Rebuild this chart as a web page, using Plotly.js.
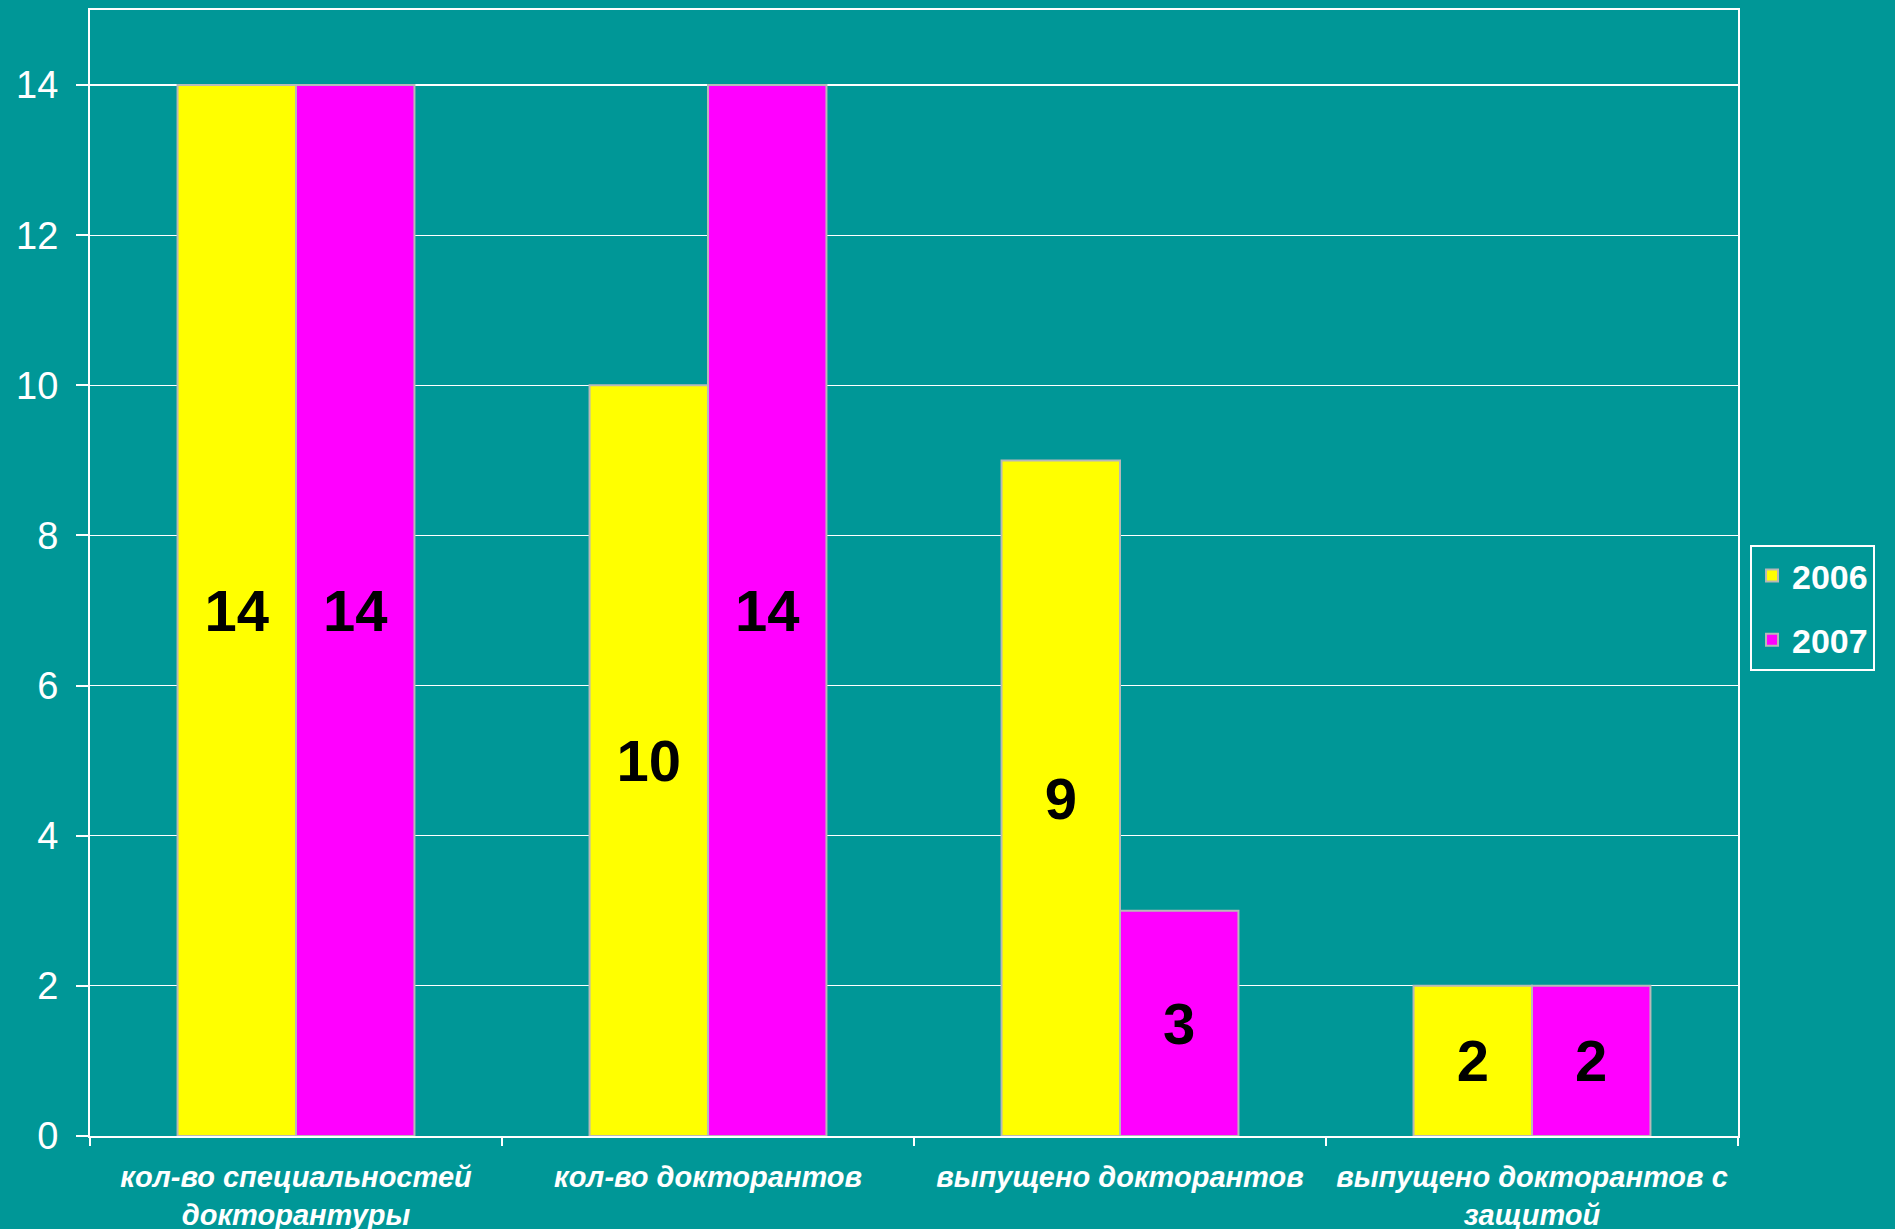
<!DOCTYPE html>
<html>
<head>
<meta charset="utf-8">
<script src="https://cdn.plot.ly/plotly-3.0.1.min.js"></script>
<style>
html,body{margin:0;padding:0;background:#009797;}
#chart{width:1895px;height:1229px;}
</style>
</head>
<body>
<div id="chart"></div>
<script>
const categories = [
  "кол-во специальностей<br>докторантуры",
  "кол-во докторантов",
  "выпущено докторантов",
  "выпущено докторантов с<br>защитой"
];
const seriesNames = ["2006", "2007"];
const values2006 = [14, 10, 9, 2];
const values2007 = [14, 14, 3, 2];
const yTicks = [0, 2, 4, 6, 8, 10, 12, 14];

const FONT = "'Liberation Sans', Arial, sans-serif";
const TEAL = "#009797";

function barTrace(name, vals, color, group) {
  return {
    type: "bar",
    name: name,
    x: categories,
    y: vals,
    legendgroup: group,
    marker: {color: color, line: {color: "#b8b8b8", width: 2}},
    texttemplate: "%{y}",
    textposition: "inside",
    insidetextanchor: "middle",
    textangle: 0,
    constraintext: "none",
    textfont: {family: FONT, size: 58, color: "#000000", weight: "bold"},
    hoverinfo: "skip"
  };
}

const data = [
  barTrace(seriesNames[0], values2006, "#FFFF00", "a"),
  barTrace(seriesNames[1], values2007, "#FF00FF", "b")
];

const layout = {
  width: 1895,
  height: 1229,
  paper_bgcolor: TEAL,
  plot_bgcolor: TEAL,
  margin: {l: 90, r: 157, t: 10, b: 93},
  barmode: "group",
  bargap: 0.425,
  bargroupgap: 0,
  font: {family: FONT, color: "#ffffff"},
  xaxis: {
    type: "category",
    tickson: "boundaries",
    ticks: "outside",
    ticklen: 8,
    tickwidth: 2,
    tickcolor: "#ffffff",
    showline: true,
    mirror: true,
    linecolor: "#ffffff",
    linewidth: 2,
    showgrid: false,
    tickfont: {family: FONT, size: 29, color: "#ffffff", weight: "bold", style: "italic"},
    ticklabelstandoff: 14
  },
  yaxis: {
    range: [0, 15],
    tickvals: yTicks,
    ticktext: yTicks.map(String),
    ticks: "outside",
    ticklen: 12,
    tickwidth: 2,
    tickcolor: "#ffffff",
    showline: true,
    mirror: true,
    linecolor: "#ffffff",
    linewidth: 2,
    showgrid: true,
    gridcolor: "#ffffff",
    gridwidth: 1.2,
    zeroline: false,
    tickfont: {family: FONT, size: 38, color: "#ffffff"},
    ticklabelstandoff: 10
  },
  showlegend: true,
  legend: {
    x: 1.0073,
    xanchor: "left",
    y: 0.469,
    yanchor: "middle",
    bgcolor: "rgba(0,0,0,0)",
    bordercolor: "#ffffff",
    borderwidth: 2,
    font: {family: FONT, size: 34, color: "#ffffff", weight: "bold"},
    tracegroupgap: 17,
    traceorder: "grouped"
  }
};

Plotly.newPlot("chart", data, layout, {displayModeBar: false, staticPlot: true});
</script>
</body>
</html>
